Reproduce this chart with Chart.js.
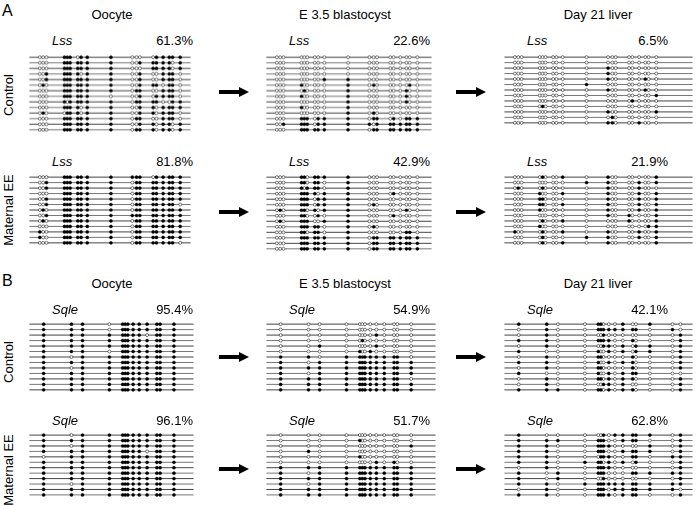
<!DOCTYPE html>
<html><head><meta charset="utf-8">
<script src="https://cdn.jsdelivr.net/npm/chart.js@4/dist/chart.umd.min.js"></script>
<style>
body{margin:0;width:700px;height:506px;background:#fff;position:relative;overflow:hidden;font-family:"Liberation Sans",Arial,sans-serif;}
.t{position:absolute;font-size:13px;color:#000;white-space:nowrap;line-height:1;}
canvas{position:absolute;}
.shaft{position:absolute;background:#000;}
.head{position:absolute;width:0;height:0;border-style:solid;border-color:transparent transparent transparent #000;}
</style></head><body>
<script>
// ---------- DATA ----------
const panelLetters = ['A', 'B'];
const stages = ['Oocyte', 'E 3.5 blastocyst', 'Day 21 liver'];
const groups = ['Control', 'Maternal EE'];
const genes = ['Lss', 'Sqle'];

// CpG site positions along each amplicon (relative units)
const lssSites = [11, 14.5, 18, 37, 40, 43, 51, 54.5, 61, 86, 108.5, 113, 116.5, 130.5, 134, 141, 147.5, 151, 159];
const sqleSites = [15, 44.3, 56, 84.3, 98.3, 101, 103.7, 109.3, 115.7, 124, 134.3, 137.7, 152.3, 176, 184.3];

// Percent methylation labels
const lssCtrlPct = ['61.3%', '22.6%', '6.5%'];
const lssEEPct = ['81.8%', '42.9%', '21.9%'];
const sqleCtrlPct = ['95.4%', '54.9%', '42.1%'];
const sqleEEPct = ['96.1%', '51.7%', '62.8%'];

// Clones: 1 = methylated CpG (filled), 0 = unmethylated (open)
const lssCtrlOocyte = [
 '000 111011 1 000 011111','000 111111 1 001 111101','000 111111 1 000 111101','001 111101 1 001 001110',
 '001 111111 1 001 001110','010 111111 1 001 110110','000 111111 1 011 001110','000 111111 0 001 011110',
 '000 101111 1 011 110011','000 111101 1 001 101111','010 011101 1 001 101110','000 111111 1 011 001110',
 '000 111111 1 001 101101','000 111111 1 011 101101'];
const lssCtrlBlast = [
 '000 000000 0 000 000000','000 000000 0 000 000000','000 000000 0 000 000000','000 000000 0 000 000000',
 '000 000001 1 000 000000','000 100000 1 010 000010','000 010000 1 000 000100','000 100000 1 000 000100',
 '000 000000 1 000 000100','000 100000 1 000 000000','000 000000 1 010 000000','000 111011 1 011 010111',
 '001 111011 1 101 111111','000 111111 1 011 111111'];
const lssCtrlLiver = [
 '000 000000 0 000 000000','000 000000 0 000 000000','000 000000 0 100 000000','000 000000 0 100 000000',
 '000 000000 0 100 000100','000 000000 1 000 000000','000 000000 0 100 000100','000 000000 0 000 000001',
 '000 000000 0 000 010000','000 010000 0 000 000000','000 000000 0 100 000001','000 000000 0 010 000000',
 '000 000000 0 110 001000'];
const lssEEOocyte = [
 '000 111111 1 111 011111','001 111111 1 011 111111','001 111111 1 011 111111','000 111111 1 011 111111',
 '001 111111 1 011 111111','001 111111 1 011 111110','010 111111 1 011 111111','001 111111 1 111 111111',
 '010 111111 1 011 111111','000 111111 1 011 111111','100 111111 1 011 111111','100 111111 1 011 111111',
 '000 111111 1 011 111110'];
const lssEEBlast = [
 '000 110111 1 000 000000','000 110110 1 000 000000','000 101110 1 000 000000','000 111101 1 000 010000',
 '000 111011 1 000 000000','000 111011 1 010 000000','010 110101 1 000 000100','000 110010 1 000 010000',
 '010 111001 1 000 000000','000 111110 1 010 000000','000 110110 1 000 000110','000 111111 1 011 111111',
 '000 111111 1 011 111111','000 111111 1 011 111111'];
const lssEELiver = [
 '000 010001 0 100 000001','000 000000 1 100 001001','010 010000 0 100 001000','000 100001 0 100 001001',
 '000 110000 0 100 001001','000 110001 0 100 001001','000 100000 0 100 001001','000 000000 0 100 100001',
 '000 010001 0 000 100001','000 100000 0 000 000011','100 010001 0 100 001001','000 010000 1 100 001001',
 '000 010001 0 100 000001'];
const sqleCtrlOocyte = [
 '1110 111 111 11 1','1110 111 111 11 1','1111 111 110 11 1','1111 111 111 11 1','1111 111 111 11 1',
 '1110 111 111 11 1','1011 111 111 11 1','1111 111 111 11 1','1011 111 111 11 1','1111 111 111 11 1',
 '1111 111 111 11 1','1111 111 111 11 1','1111 111 111 11 1'];
const sqleCtrlBlast = [
 '0000 000 000 00 0','0000 000 000 00 0','0000 000 010 00 0','0000 010 000 00 0','0010 000 010 00 0',
 '0000 100 100 00 0','1101 111 111 11 0','1011 111 111 11 1','1111 111 111 11 1','1011 111 111 11 1',
 '1111 111 111 11 0','1111 111 111 11 1','1111 111 111 11 1'];
const sqleCtrlLiver = [
 '1100 110 001 00 1 00','0100 111 111 11 0 10','0100 001 000 00 0 01','1100 111 100 10 0 01',
 '0100 001 101 01 1 01','1000 100 101 01 1 01','0100 110 000 10 0 01','1100 100 101 10 0 01',
 '0100 110 000 10 0 01','1000 100 101 11 0 00','0100 110 101 10 0 01','0100 001 101 00 0 01',
 '1110 110 101 10 0 01'];
const sqleEEOocyte = [
 '1011 111 111 11 1','1111 111 111 11 1','1011 111 111 11 1','1111 111 110 11 1','0111 111 111 11 1',
 '1111 111 111 11 1','1111 111 111 11 1','1111 111 111 11 1','1111 111 111 11 1','1011 111 111 11 1',
 '1111 111 111 11 1','1111 111 111 11 1'];
const sqleEEBlast = [
 '0000 000 000 00 0','0000 100 000 00 0','0000 000 000 00 1','0100 000 000 00 0','0000 100 000 00 0',
 '0000 000 010 10 0','1111 111 111 11 1','1011 111 111 11 1','1111 111 111 11 1','1011 111 111 11 1',
 '1111 111 111 11 1','1111 111 111 11 1'];
const sqleEELiver = [
 '1000 001 011 11 1 01','1110 111 001 11 0 01','1100 111 100 00 1 01','1100 111 001 11 1 01',
 '1100 011 100 11 0 11','1101 110 101 01 0 01','0100 111 100 00 0 01','1010 111 000 11 1 11',
 '1010 001 000 00 0 01','1101 111 111 11 1 11','0100 111 011 11 1 10','1100 111 101 11 0 01'];

// ---------- LAYOUT ----------
const colX = [25, 262, 500];
const lineEnd = {Lss: [195, 436, 697], Sqle: [198, 440, 697]};
const rowFirstY = [53, 172.5, 319.5, 431];
const rowLabelY = [40, 161, 309, 420];
const rowArrowY = [92, 212, 357, 469];
const spacing = 6.2;
const pad = 4;

function addText(txt, x, y, opts) {
  const d = document.createElement('div');
  d.className = 't';
  d.textContent = txt;
  d.style.left = x + 'px';
  d.style.top = y + 'px';
  Object.assign(d.style, opts.style || {});
  d.style.transform = opts.transform || 'translate(-50%,-50%)';
  document.body.appendChild(d);
}

function addArrow(x, y) {
  const s = document.createElement('div');
  s.className = 'shaft';
  s.style.left = x + 'px'; s.style.top = (y - 1.75) + 'px';
  s.style.width = '21px'; s.style.height = '3.5px';
  document.body.appendChild(s);
  const h = document.createElement('div');
  h.className = 'head';
  h.style.left = (x + 20) + 'px'; h.style.top = (y - 5.5) + 'px';
  h.style.borderWidth = '5.5px 0 5.5px 10px';
  document.body.appendChild(h);
}

function drawPanel(clones, sites, x0, x1, y0) {
  const rows = clones.map(s => s.replace(/\s+/g, ''));
  const nSites = rows[0].length;
  const len = x1 - x0;
  const n = rows.length;
  const cv = document.createElement('canvas');
  const w = len + 2 * pad, h = (n - 1) * spacing + 2 * pad;
  cv.width = w; cv.height = h;
  cv.style.left = (x0 - pad) + 'px';
  cv.style.top = (y0 - pad) + 'px';
  cv.style.width = w + 'px'; cv.style.height = h + 'px';
  document.body.appendChild(cv);

  const meth = [], unmeth = [];
  rows.forEach((r, i) => {
    for (let k = 0; k < nSites; k++) {
      const p = {x: sites[k], y: i};
      (r[k] === '1' ? meth : unmeth).push(p);
    }
  });
  const datasets = [
    {data: meth, pointRadius: 1.6, pointBackgroundColor: '#000', pointBorderColor: '#000', pointBorderWidth: 0.3, showLine: false, order: 0},
    {data: unmeth, pointRadius: 1.5, pointBackgroundColor: '#fff', pointBorderColor: '#222', pointBorderWidth: 0.6, showLine: false, order: 0}
  ];
  rows.forEach((r, i) => {
    datasets.push({data: [{x: 0, y: i}, {x: len, y: i}], showLine: true, borderColor: i % 2 ? '#777' : '#444', borderWidth: 1, pointRadius: 0, order: 1});
  });
  new Chart(cv, {
    type: 'scatter',
    data: {datasets},
    options: {
      responsive: false, animation: false, events: [], devicePixelRatio: 1,
      layout: {padding: 0},
      plugins: {legend: {display: false}, tooltip: {enabled: false}},
      scales: {
        x: {type: 'linear', display: false, min: -pad, max: len + pad},
        y: {type: 'linear', display: false, reverse: true, min: -pad / spacing, max: (n - 1) + pad / spacing}
      }
    }
  });
}

const panelRows = [
  {gene: 'Lss', sites: lssSites, clones: [lssCtrlOocyte, lssCtrlBlast, lssCtrlLiver], pct: lssCtrlPct},
  {gene: 'Lss', sites: lssSites, clones: [lssEEOocyte, lssEEBlast, lssEELiver], pct: lssEEPct},
  {gene: 'Sqle', sites: sqleSites, clones: [sqleCtrlOocyte, sqleCtrlBlast, sqleCtrlLiver], pct: sqleCtrlPct},
  {gene: 'Sqle', sites: sqleSites, clones: [sqleEEOocyte, sqleEEBlast, sqleEELiver], pct: sqleEEPct}
];

// section letters and headers
addText(panelLetters[0], 2, 3, {transform: 'none', style: {fontSize: '16px'}});
addText(panelLetters[1], 2, 273, {transform: 'none', style: {fontSize: '16px'}});
const headerCx = [112, 345, 598];
[14, 283].forEach(hy => stages.forEach((s, c) => addText(s, headerCx[c], hy, {})));
// group labels (rotated)
const groupLabelY = [95, 210, 362, 470];
groupLabelY.forEach((gy, r) => addText(groups[r % 2], 8, gy, {transform: 'translate(-50%,-50%) rotate(-90deg)'}));

panelRows.forEach((row, r) => {
  for (let c = 0; c < 3; c++) {
    drawPanel(row.clones[c], row.sites, colX[c], lineEnd[row.gene][c], rowFirstY[r]);
    addText(row.gene, colX[c] + 27, rowLabelY[r], {transform: 'translate(0,-50%)', style: {fontStyle: 'italic'}});
    addText(row.pct[c], colX[c] + 168, rowLabelY[r], {transform: 'translate(-100%,-50%)'});
  }
  addArrow(219, rowArrowY[r]);
  addArrow(456, rowArrowY[r]);
});
</script>
</body></html>
